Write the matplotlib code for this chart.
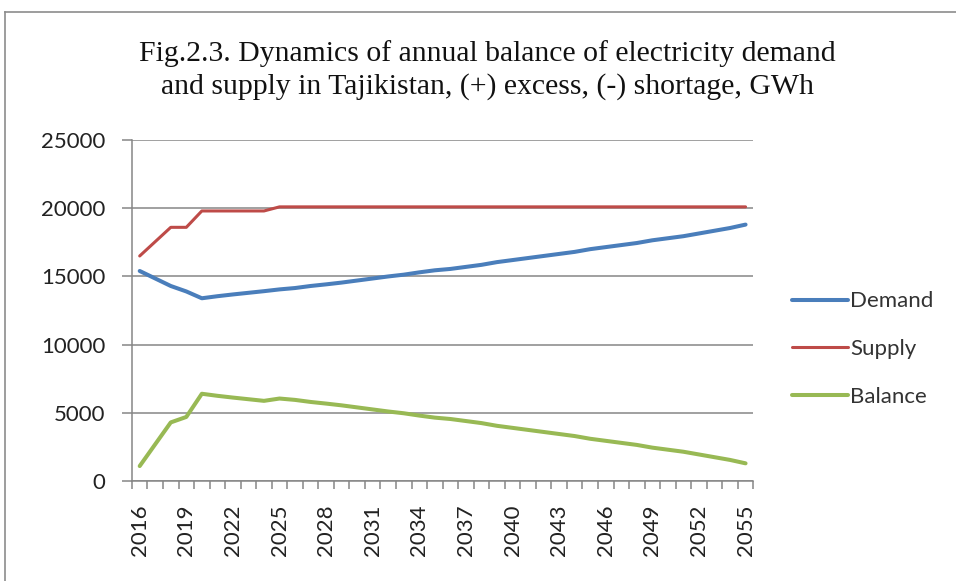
import matplotlib
matplotlib.use("Agg")
import matplotlib.pyplot as plt
from matplotlib.lines import Line2D
from matplotlib.ticker import MultipleLocator, FixedLocator

# values (GWh)
years = list(range(2016, 2056))
demand = [15400, 14850, 14300, 13900, 13400, 13550, 13680, 13800, 13920, 14050,
          14150, 14300, 14420, 14550, 14700, 14850, 15000, 15130, 15300, 15450,
          15550, 15700, 15850, 16050, 16200, 16350, 16500, 16650, 16800, 17000,
          17150, 17300, 17450, 17650, 17800, 17950, 18150, 18350, 18550, 18800]
supply = [16500, 17550, 18600, 18600, 19800, 19800, 19800, 19800, 19800, 20100,
          20100, 20100, 20100, 20100, 20100, 20100, 20100, 20100, 20100, 20100,
          20100, 20100, 20100, 20100, 20100, 20100, 20100, 20100, 20100, 20100,
          20100, 20100, 20100, 20100, 20100, 20100, 20100, 20100, 20100, 20100]
balance = [1100, 2700, 4300, 4700, 6400, 6250, 6120, 6000, 5880, 6050,
           5950, 5800, 5680, 5550, 5400, 5250, 5100, 4970, 4800, 4650,
           4550, 4400, 4250, 4050, 3900, 3750, 3600, 3450, 3300, 3100,
           2950, 2800, 2650, 2450, 2300, 2150, 1950, 1750, 1550, 1300]

title = ("Fig.2.3. Dynamics of annual balance of electricity demand\n"
         "and supply in Tajikistan, (+) excess, (-) shortage, GWh")

plt.rcParams['font.family'] = ['Lato', 'DejaVu Sans']

fig = plt.figure(figsize=(9.56, 5.81), dpi=100)
ax = fig.add_axes([0.138, 0.172, 0.650, 0.587])

# outer chart frame (only top and left edges visible)
fig.add_artist(Line2D([5/956, 1], [1 - 12/581, 1 - 12/581], color='#8c8c8c', lw=1.2))
fig.add_artist(Line2D([5/956, 5/956], [0, 1 - 12/581], color='#8c8c8c', lw=1.2))

ax.plot(years, demand, color='#4A7EBB', lw=2.9, label='Demand', solid_capstyle='round')
ax.plot(years, supply, color='#BE4B48', lw=2.2, label='Supply', solid_capstyle='round')
ax.plot(years, balance, color='#98B954', lw=2.9, label='Balance', solid_capstyle='round')

ax.set_xlim(2015.5, 2055.5)
ax.set_ylim(0, 25000)
ax.yaxis.set_major_locator(MultipleLocator(5000))
ax.grid(axis='y', color='#868686', lw=1.1)
ax.set_axisbelow(True)

ax.xaxis.set_major_locator(FixedLocator(years[::3]))
ax.xaxis.set_minor_locator(FixedLocator([y - 0.5 for y in years] + [2055.5]))
ax.tick_params(axis='x', which='major', length=0, pad=17, labelsize=16,
               labelrotation=90, colors='#222222')
ax.tick_params(axis='x', which='minor', length=6, width=1.1, color='#868686')
ax.tick_params(axis='y', length=7, width=1.1, color='#868686', pad=12,
               labelsize=16, labelcolor='#222222')

for s in ['top', 'right']:
    ax.spines[s].set_visible(False)
for s in ['left', 'bottom']:
    ax.spines[s].set_color('#868686')
    ax.spines[s].set_linewidth(1.1)

fig.text(0.51, 1 - 70/581, title, ha='center', va='center', fontsize=21.4,
         family='Liberation Serif', linespacing=1.3, color='#111111')

ax.legend(loc='center left', bbox_to_anchor=(1.063, 0.387), frameon=False,
          fontsize=16, handlelength=2.5, handletextpad=0.1, labelspacing=1.25,
          borderpad=0, borderaxespad=0, labelcolor='#333333')

fig.savefig('out.png', dpi=100)
